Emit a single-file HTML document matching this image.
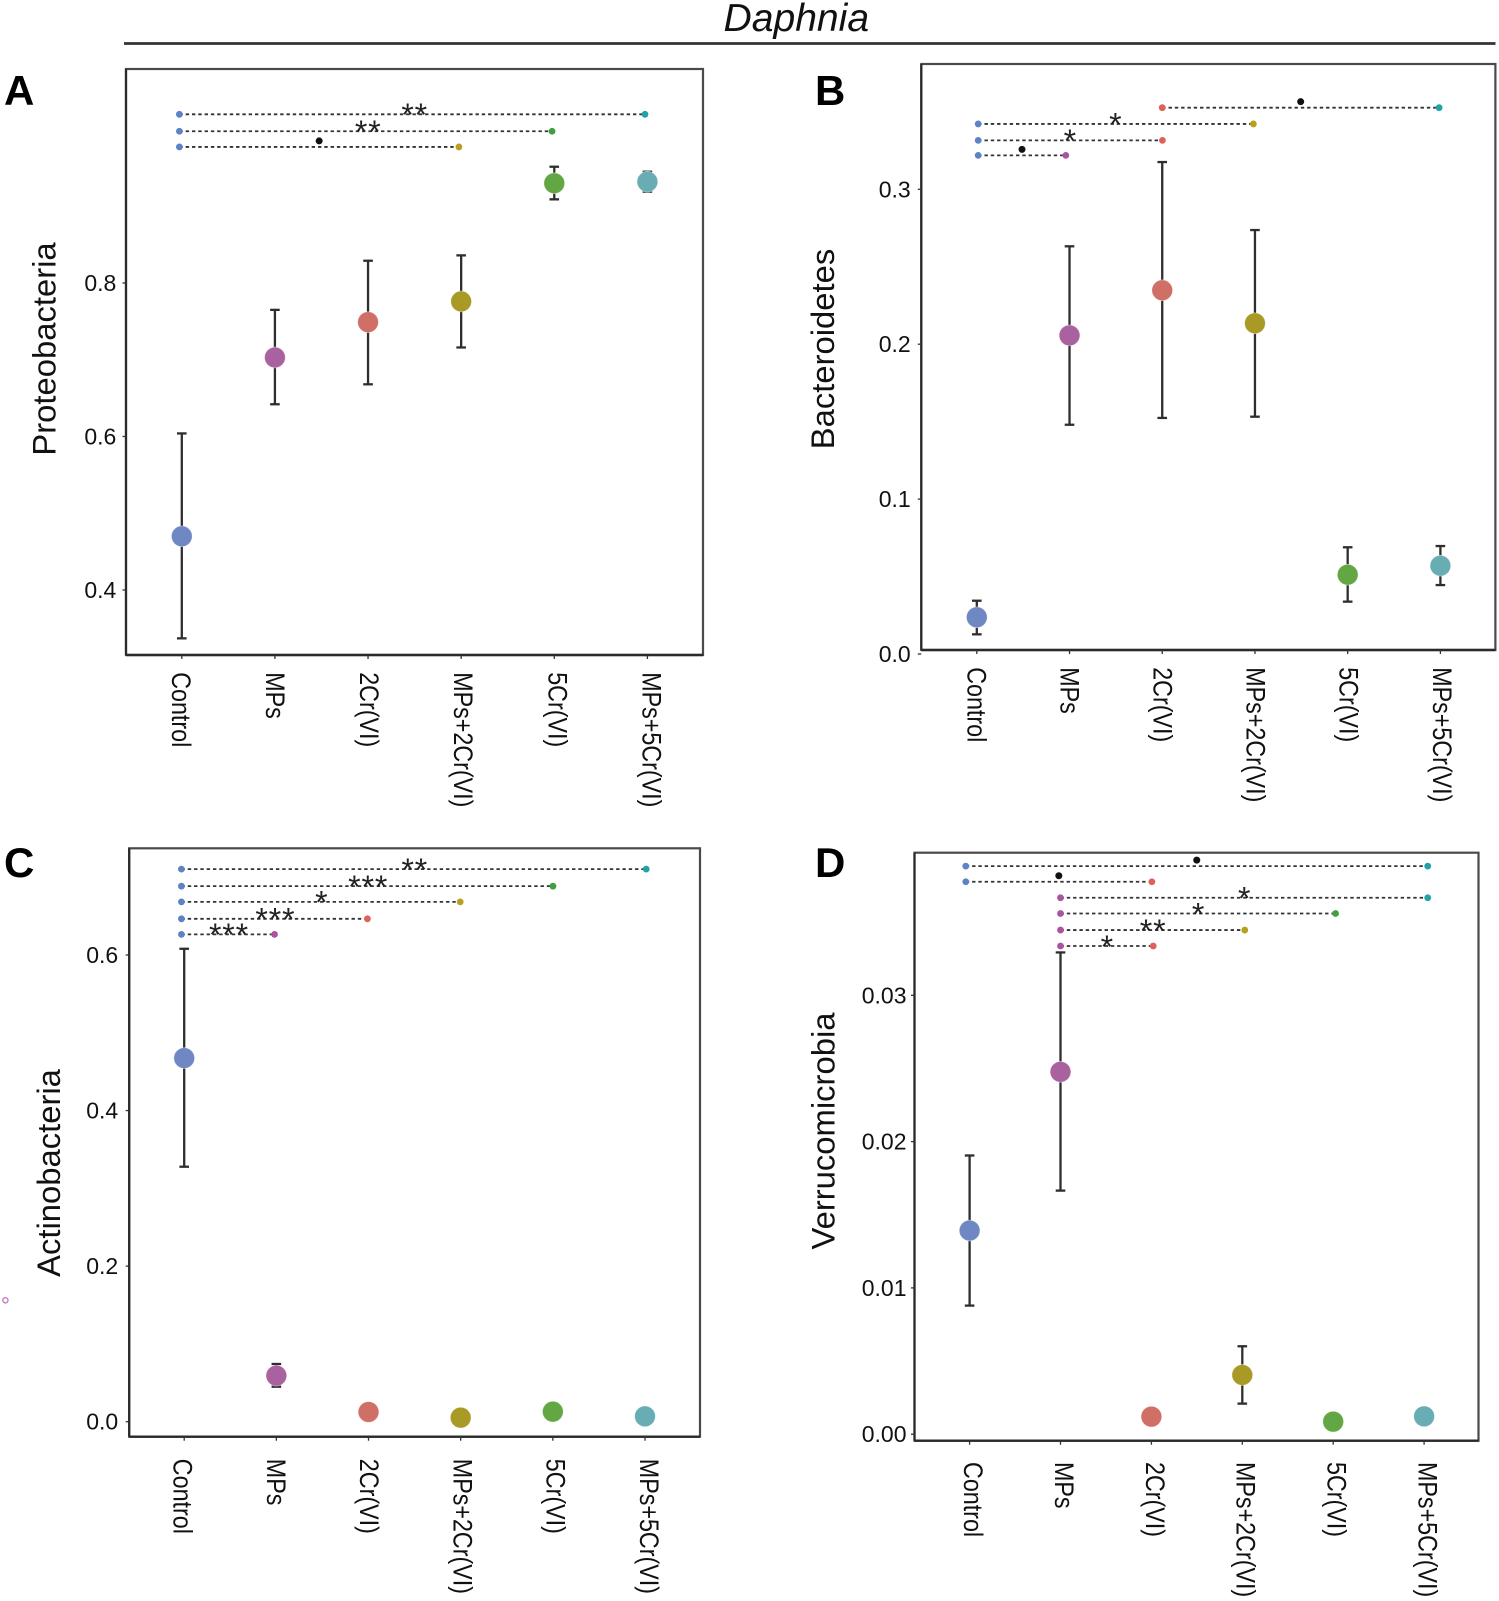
<!DOCTYPE html>
<html lang="en">
<head>
<meta charset="utf-8">
<title>Daphnia phylum abundance panels</title>
<style>
  html, body { margin: 0; padding: 0; background: #fff; }
  body { width: 1499px; height: 1601px; overflow: hidden; }
  svg { display: block; font-family: "Liberation Sans", Arial, sans-serif; filter: blur(0.35px); }
</style>
</head>
<body>
<svg id="figure" xmlns="http://www.w3.org/2000/svg" width="1499" height="1601" viewBox="0 0 1499 1601">
  <rect x="0" y="0" width="1499" height="1601" fill="#ffffff"/>
  <text x="723.5" y="31" font-size="39.1" font-style="italic" fill="#111">Daphnia</text>
  <line x1="124" y1="43.5" x2="1495.5" y2="43.5" stroke="#333" stroke-width="2.8"/>
  <text x="4" y="105" font-size="42" font-weight="bold" fill="#000">A</text>
  <text x="815" y="105" font-size="42" font-weight="bold" fill="#000">B</text>
  <text x="4" y="877" font-size="42" font-weight="bold" fill="#000">C</text>
  <text x="815" y="877" font-size="42" font-weight="bold" fill="#000">D</text>
  <circle cx="5.4" cy="1300.3" r="2.6" fill="none" stroke="#c57cc0" stroke-width="1.4"/>
</svg>
<script>
// ---------- shared data ----------
const categories = ["Control", "MPs", "2Cr(VI)", "MPs+2Cr(VI)", "5Cr(VI)", "MPs+5Cr(VI)"];

// ---------- panel A: Proteobacteria ----------
const proteoTicks = ["0.4", "0.6", "0.8"];
const proteoMeans = [0.470, 0.703, 0.749, 0.776, 0.930, 0.932];
const proteoUpper = [0.604, 0.765, 0.829, 0.836, 0.9515, 0.945];
const proteoLower = [0.337, 0.642, 0.668, 0.716, 0.909, 0.919];
const proteoBracketFrom = [-0.026, -0.026, -0.026];
const proteoBracketTo = [4.974, 3.976, 2.976];
const proteoBracketLevel = [1.0198, 0.9977, 0.9773];
const proteoBracketMark = ["**", "**", "•"];
const proteoBracketEnd = [5, 4, 3];
const proteoBracketStart = [0, 0, 0];

// ---------- panel B: Bacteroidetes ----------
const bactTicks = ["0.0", "0.1", "0.2", "0.3"];
const bactMeans = [0.0237, 0.2057, 0.2348, 0.2135, 0.0512, 0.0570];
const bactUpper = [0.0344, 0.2632, 0.3176, 0.2737, 0.0689, 0.0697];
const bactLower = [0.0127, 0.1480, 0.1524, 0.1532, 0.0338, 0.0445];
const bactBracketFrom = [2.0, 0.015, 0.015, 0.015];
const bactBracketTo = [4.986, 2.983, 2.002, 0.96];
const bactBracketLevel = [0.3527, 0.3422, 0.3316, 0.3219];
const bactBracketMark = ["•", "*", "*", "•"];
const bactBracketEnd = [5, 3, 2, 1];
const bactBracketStart = [2, 0, 0, 0];

// ---------- panel C: Actinobacteria ----------
const actinoTicks = ["0.0", "0.2", "0.4", "0.6"];
const actinoMeans = [0.4675, 0.0592, 0.0125, 0.0052, 0.0129, 0.0069];
const actinoUpper = [0.608, 0.0742, 0.0125, 0.0052, 0.0129, 0.0069];
const actinoLower = [0.3278, 0.045, 0.0125, 0.0052, 0.0129, 0.0069];
const actinoBracketFrom = [-0.03, -0.03, -0.03, -0.03, -0.03];
const actinoBracketTo = [5.013, 4.001, 2.995, 1.988, 0.98];
const actinoBracketLevel = [0.7104, 0.6885, 0.6683, 0.6465, 0.6265];
const actinoBracketMark = ["**", "***", "*", "***", "***"];
const actinoBracketEnd = [5, 4, 3, 2, 1];
const actinoBracketStart = [0, 0, 0, 0, 0];

// ---------- panel D: Verrucomicrobia ----------
const verruTicks = ["0.00", "0.01", "0.02", "0.03"];
const verruMeans = [0.01392, 0.02477, 0.0012, 0.00405, 0.00086, 0.00122];
const verruUpper = [0.01905, 0.03293, 0.0012, 0.00601, 0.00086, 0.00122];
const verruLower = [0.00879, 0.01665, 0.0012, 0.00209, 0.00086, 0.00122];
const verruBracketFrom = [-0.042, -0.042, 1.0, 1.0, 1.0, 1.0];
const verruBracketTo = [5.04, 2.005, 5.04, 4.026, 3.027, 2.02];
const verruBracketLevel = [0.03883, 0.03776, 0.03667, 0.03559, 0.03446, 0.03337];
const verruBracketMark = ["•", "•", "*", "*", "**", "*"];
const verruBracketEnd = [5, 2, 5, 4, 3, 2];
const verruBracketStart = [0, 0, 1, 1, 1, 1];

// ---------- styling ----------
const markerFill = ["#6f87c2", "#a9629f", "#cf6f66", "#a89a25", "#63a644", "#67adb3"];
const endpointFill = ["#5b83c6", "#a8549f", "#dc635a", "#b8a01f", "#3fa03f", "#1fa3a8"];

// ---------- panel layouts ----------
const panels = [
  { title: "Proteobacteria", left: 126, right: 703, top: 69, bottom: 655,
    x0: 181.8, xStep: 93.12, domain: [0.4, 0.8], range: [590, 283],
    ticks: proteoTicks, means: proteoMeans, upper: proteoUpper, lower: proteoLower,
    bFrom: proteoBracketFrom, bTo: proteoBracketTo, bLevel: proteoBracketLevel, bMark: proteoBracketMark,
    bStart: proteoBracketStart, bEnd: proteoBracketEnd, starShift: 2,
    tickRight: 116.3, titleX: 55.5, titleY: 349, labelTop: 672.2, shiftA: -10, shiftB: -5 },
  { title: "Bacteroidetes", left: 921.3, right: 1495.4, top: 64, bottom: 650,
    x0: 976.8, xStep: 92.72, domain: [0, 0.3], range: [654, 189.3],
    ticks: bactTicks, means: bactMeans, upper: bactUpper, lower: bactLower,
    bFrom: bactBracketFrom, bTo: bactBracketTo, bLevel: bactBracketLevel, bMark: bactBracketMark,
    bStart: bactBracketStart, bEnd: bactBracketEnd, starShift: -0.5,
    tickRight: 910.7, titleX: 834, titleY: 349, labelTop: 667.2, shiftA: -9.3, shiftB: -7.6 },
  { title: "Actinobacteria", left: 129.2, right: 700, top: 848.3, bottom: 1436.7,
    x0: 184.2, xStep: 92.16, domain: [0, 0.6], range: [1421.7, 955],
    ticks: actinoTicks, means: actinoMeans, upper: actinoUpper, lower: actinoLower,
    bFrom: actinoBracketFrom, bTo: actinoBracketTo, bLevel: actinoBracketLevel, bMark: actinoBracketMark,
    bStart: actinoBracketStart, bEnd: actinoBracketEnd, starShift: 0.5,
    tickRight: 118.2, titleX: 60, titleY: 1173, labelTop: 1458.8, shiftA: -10.5, shiftB: -5 },
  { title: "Verrucomicrobia", left: 914.5, right: 1478.5, top: 852.7, bottom: 1440.7,
    x0: 969.6, xStep: 90.9, domain: [0, 0.03], range: [1434.2, 995.3],
    ticks: verruTicks, means: verruMeans, upper: verruUpper, lower: verruLower,
    bFrom: verruBracketFrom, bTo: verruBracketTo, bLevel: verruBracketLevel, bMark: verruBracketMark,
    bStart: verruBracketStart, bEnd: verruBracketEnd, starShift: 0,
    tickRight: 906.5, titleX: 834.5, titleY: 1131, labelTop: 1462, shiftA: -5.6, shiftB: -5.6 }
];

const NS = "http://www.w3.org/2000/svg";
const svg = document.getElementById("figure");

function make(parent, tag, attrs) {
  const node = document.createElementNS(NS, tag);
  Object.keys(attrs).forEach(function (k) { node.setAttribute(k, attrs[k]); });
  parent.appendChild(node);
  return node;
}

function drawPanel(p) {
  const xScale = function (c) { return p.x0 + p.xStep * c; };
  const yScale = function (v) {
    return p.range[0] + (v - p.domain[0]) * (p.range[1] - p.range[0]) / (p.domain[1] - p.domain[0]);
  };

  const g = make(svg, "g", {});
  
  

  // frame
  const frame = make(g, "rect", { x: p.left, y: p.top, width: p.right - p.left, height: p.bottom - p.top,
    fill: "none", stroke: "#4a4a4a", "stroke-width": 2.2 });
  
  

  const axisY = make(g, "line", { x1: p.left, y1: p.top, x2: p.left, y2: p.bottom, stroke: "#2a2a2a", "stroke-width": 2.2 });
  
  

  const axisX = make(g, "line", { x1: p.left, y1: p.bottom, x2: p.right, y2: p.bottom, stroke: "#2a2a2a", "stroke-width": 2.4 });
  
  

  // y title
  const yTitle = make(g, "text", { x: 0, y: 0, "font-size": 32.8, fill: "#111", "text-anchor": "middle",
    transform: "translate(" + p.titleX + "," + p.titleY + ") rotate(-90)" });
  yTitle.textContent = p.title;
  
  

  // y ticks
  p.ticks.forEach(function (label) {
    const y = yScale(Number(label));
    const tick = make(g, "line", { x1: p.left - 3.5, y1: y, x2: p.left, y2: y, stroke: "#333", "stroke-width": 1.3 });
    
    

    const txt = make(g, "text", { x: p.tickRight, y: y + 8, "font-size": 23, fill: "#111", "text-anchor": "end" });
    txt.textContent = label;
    
    
  });

  // x ticks + labels
  categories.forEach(function (label, i) {
    const x = xScale(i);
    const tick = make(g, "line", { x1: x, y1: p.bottom, x2: x, y2: p.bottom + 4, stroke: "#333", "stroke-width": 1.3 });
    
    

    const shift = p.shiftA + (p.shiftB - p.shiftA) * i / (categories.length - 1);
    const txt = make(g, "text", { x: 0, y: 0, "font-size": 23.3, fill: "#111",
      transform: "translate(" + (x + shift) + "," + p.labelTop + ") rotate(90) scale(1,1.14)" });
    txt.textContent = label;
    
    
  });

  // significance brackets
  p.bLevel.forEach(function (level, i) {
    const y = yScale(level);
    const x1 = xScale(p.bFrom[i]);
    const x2 = xScale(p.bTo[i]);
    const line = make(g, "line", { x1: x1, y1: y, x2: x2, y2: y, stroke: "#333", "stroke-width": 1.8, "stroke-dasharray": "3.4 2.9" });
    
    

    const startDot = make(g, "circle", { cx: x1, cy: y, r: 3.4, fill: endpointFill[p.bStart[i]] });
    
    

    const endDot = make(g, "circle", { cx: x2, cy: y, r: 3.4, fill: endpointFill[p.bEnd[i]] });
    
    

    const mid = (x1 + x2) / 2;
    if (p.bMark[i] === "•") {
      const mark = make(g, "circle", { cx: mid, cy: y - 6, r: 3.5, fill: "#111" });
      
      
    } else {
      const mark = make(g, "text", { x: mid + 0.5 + p.starShift, y: y + 11.8, "font-size": 32, fill: "#222", "text-anchor": "middle", "letter-spacing": "0.9" });
      mark.textContent = p.bMark[i];
      
      
    }
  });

  // error bars and means
  p.means.forEach(function (mean, i) {
    const x = xScale(i);
    const hi = yScale(p.upper[i]);
    const lo = yScale(p.lower[i]);
    if (hi !== lo) {
      const stem = make(g, "line", { x1: x, y1: hi, x2: x, y2: lo, stroke: "#2e2e2e", "stroke-width": 2.3 });
      
      

      const capTop = make(g, "line", { x1: x - 4.8, y1: hi, x2: x + 4.8, y2: hi, stroke: "#2e2e2e", "stroke-width": 2.3 });
      
      

      const capBottom = make(g, "line", { x1: x - 4.8, y1: lo, x2: x + 4.8, y2: lo, stroke: "#2e2e2e", "stroke-width": 2.3 });
      
      
    }
    const dot = make(g, "circle", { cx: x, cy: yScale(mean), r: 10.4, fill: markerFill[i], stroke: "#ffffff", "stroke-opacity": 0.5, "stroke-width": 0.8 });
    
    
  });
}

panels.forEach(drawPanel);
</script>
</body>
</html>
